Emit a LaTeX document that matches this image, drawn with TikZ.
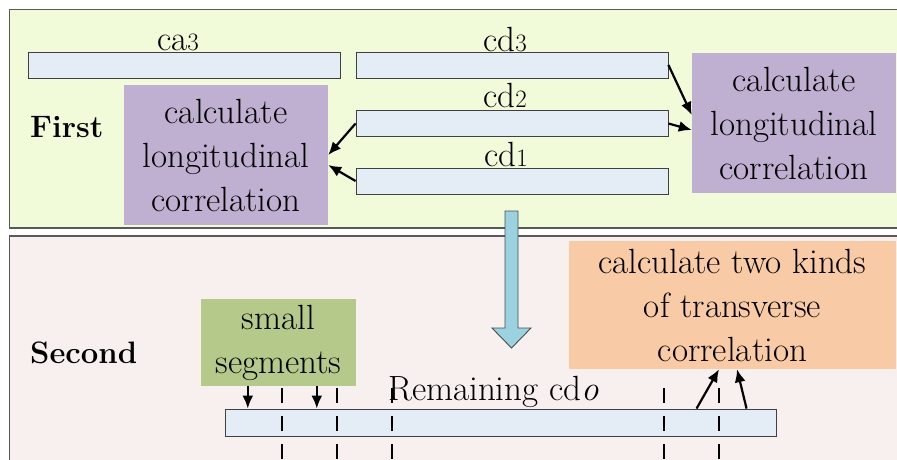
\documentclass[tikz,border=0pt]{standalone}
\usetikzlibrary{arrows.meta,calc}

\definecolor{toppanel}{HTML}{F1FAD9}
\definecolor{botpanel}{HTML}{F8F0EF}
\definecolor{barfill}{HTML}{E4ECF6}
\definecolor{lilac}{HTML}{BFAFD0}
\definecolor{sage}{HTML}{B5C98A}
\definecolor{peach}{HTML}{F8CBA6}
\definecolor{skyarrow}{HTML}{9AD2DF}

\tikzset{
  panel/.style={draw=black!65, line width=1.2pt},
  databar/.style={draw=black!75, fill=barfill, line width=0.9pt, inner sep=0pt,
    minimum height=26pt},
  taskbox/.style={inner sep=0pt, align=center, font=\bigtext},
  lbl/.style={anchor=base, inner sep=0pt, font=\bigtext},
  steplbl/.style={anchor=base west, inner sep=0pt, font=\steptext},
  arr/.style={-{Latex[length=13pt,width=11pt]}, line width=2.2pt},
  cut/.style={line width=1.8pt, dash pattern=on 15pt off 13pt},
}
\newcommand{\bigtext}{\fontsize{35}{44}\selectfont}
\newcommand{\steptext}{\fontsize{31}{36}\selectfont\bfseries}
\newcommand{\idx}[1]{{\fontsize{25}{25}\selectfont #1}}

\begin{document}
\begin{tikzpicture}[x=1pt,y=-1pt]
  \useasboundingbox (0,0) rectangle (897,459);
  \clip (0,0) rectangle (897,459);

  % two stage panels
  \path[panel, fill=toppanel] (9.5,9.5) rectangle (910,228);
  \path[panel, fill=botpanel] (9.5,236) rectangle (910,470);

  % first stage: data bars and their labels
  \node[databar, minimum width=312pt] (bca3) at (184,65) {};
  \node[databar, minimum width=312pt] (bcd3) at (512,65) {};
  \node[databar, minimum width=312pt] (bcd2) at (512,123.5) {};
  \node[databar, minimum width=312pt] (bcd1) at (512,181) {};

  \node[lbl] (tca3) at (178,50) {ca\idx{3}};
  \node[lbl] (tcd3) at (505,51) {cd\idx{3}};
  \node[lbl] (tcd2) at (505,107) {cd\idx{2}};
  \node[lbl] (tcd1) at (506,166) {cd\idx{1}};

  \node[steplbl] (first) at (30,137) {First};

  % longitudinal correlation boxes
  \node[taskbox, fill=lilac, minimum width=204pt, minimum height=140pt]
    (lcorr) at (226,155) {calculate\\longitudinal\\correlation};
  \node[taskbox, fill=lilac, minimum width=204pt, minimum height=140pt]
    (rcorr) at (794,123) {calculate\\longitudinal\\correlation};

  \draw[arr] (bcd2.west) -- (lcorr.east);
  \draw[arr] (bcd1.west) -- ([yshift=-10pt]lcorr.east);
  \draw[arr] (bcd3.east) -- ([yshift=8pt]rcorr.west);
  \draw[arr] (bcd2.east) -- ([yshift=-7pt]rcorr.west);

  % transition arrow between stages
  \draw[draw=black!70, line width=0.9pt, fill=skyarrow]
    (505,211) -- (518,211) -- (518,328) -- (531,328) -- (511.5,348)
    -- (492,328) -- (505,328) -- cycle;

  % second stage
  \node[steplbl] (second) at (30,363) {Second};

  \node[databar, minimum width=551pt, minimum height=27pt] (brem) at (500.5,422.5) {};
  \node[anchor=base west, inner sep=0pt, font=\bigtext] (trem) at (388,400)
    {Remaining cd\textit{o}};

  \node[taskbox, fill=sage, minimum width=155pt, minimum height=87pt]
    (seg) at (278.5,342.5) {small\\segments};
  \node[taskbox, fill=peach, minimum width=327pt, minimum height=128pt]
    (trans) at (732.5,305) {calculate two kinds\\of transverse\\correlation};

  % cut positions along the remaining sequence
  \foreach \cx in {282,337,392,664,719}
    \draw[cut] (\cx,388) -- (\cx,465);

  \draw[arr] ([xshift=47pt]seg.south west) -- ([xshift=47pt]seg.south west |- brem.north);
  \draw[arr] ([xshift=116pt]seg.south west) -- ([xshift=116pt]seg.south west |- brem.north);

  \draw[arr] ([xshift=472pt]brem.north west) -- ([xshift=-13.5pt]trans.south);
  \draw[arr] ([xshift=522pt]brem.north west) -- ([xshift=4.5pt]trans.south);
\end{tikzpicture}
\end{document}
